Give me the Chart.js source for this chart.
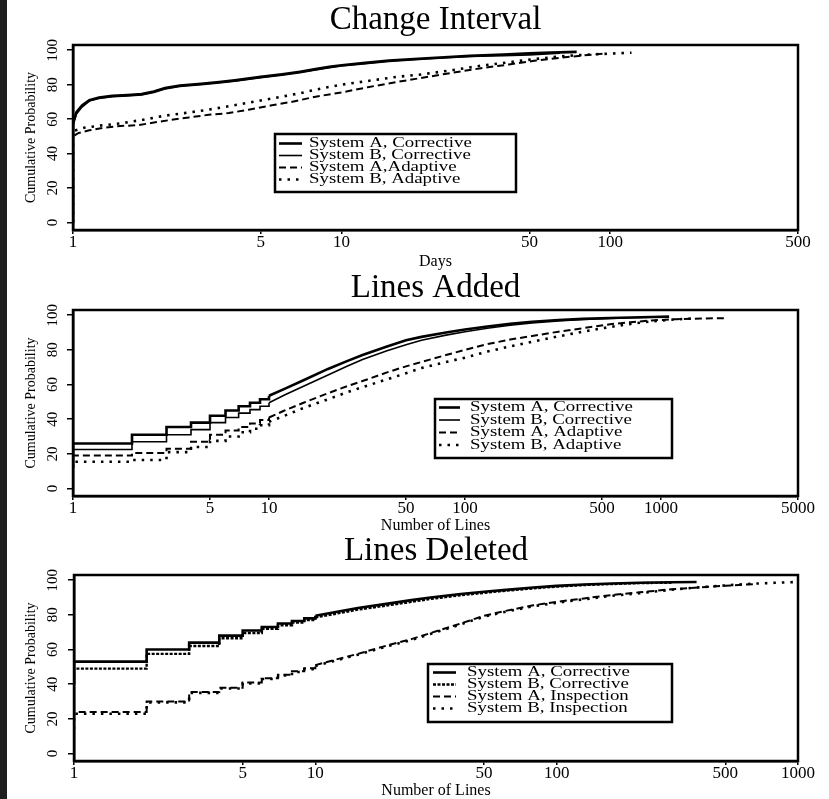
<!DOCTYPE html>
<html>
<head>
<meta charset="utf-8">
<script src="https://cdn.jsdelivr.net/npm/chart.js@4.4.1/dist/chart.umd.min.js"></script>
<style>
  body { margin: 0; background: #fff; width: 829px; height: 799px; overflow: hidden; position: relative; }
  .panel { position: absolute; left: 0; }
  .strip { position: absolute; left: 0; top: 0; width: 7px; height: 799px; background: #1e1e1e; z-index: 2; }
</style>
</head>
<body>
<canvas id="interval" class="panel" width="829" height="270" style="top:0"></canvas>
<canvas id="added" class="panel" width="829" height="265" style="top:270px"></canvas>
<canvas id="deleted" class="panel" width="829" height="264" style="top:535px"></canvas>
<div class="strip"></div>
<script>
// tick labels
const yTicks = [0, 20, 40, 60, 80, 100];
const intervalTicks = [1, 5, 10, 50, 100, 500];
const addedTicks = [1, 5, 10, 50, 100, 500, 1000, 5000];
const deletedTicks = [1, 5, 10, 50, 100, 500, 1000];

// Change Interval (days)
const intervalLabels = ["System A, Corrective", "System B, Corrective", "System A,Adaptive", "System B, Adaptive"];
const ivCorrA_x = [1, 1, 1.03, 1.08, 1.15, 1.25, 1.4, 1.6, 1.8, 2.0, 2.2, 2.5, 3, 3.5, 4, 5, 6, 7, 8, 9, 10, 12, 15, 20, 25, 30, 40, 50, 60, 75];
const ivCorrA_y = [0, 58, 64, 68, 71, 72.5, 73.5, 74, 74.5, 76, 78, 79.5, 80.5, 81.5, 82.5, 84.5, 86, 87.5, 89, 90.3, 91.3, 92.5, 94, 95.2, 96, 96.7, 97.5, 98.2, 98.6, 99];
const ivCorrB_x = [1, 1, 1.03, 1.08, 1.15, 1.25, 1.4, 1.6, 1.8, 2.0, 2.2, 2.5, 3, 3.5, 4, 5, 6, 7, 8, 9, 10, 12, 15, 20, 25, 30, 40, 50, 65];
const ivCorrB_y = [0, 56, 63, 67, 70.5, 72, 73, 73.5, 74, 75.5, 77.5, 79, 80, 81, 82, 84, 85.5, 87, 88.5, 89.8, 90.8, 92, 93.5, 94.8, 95.6, 96.3, 96.8, 97.3, 98.2];
const ivAdapA_x = [1, 1, 1.05, 1.15, 1.3, 1.5, 1.75, 2, 2.3, 2.7, 3.2, 3.8, 4.5, 5.5, 6.5, 8, 10, 12.5, 16, 20, 26, 33, 42, 52, 66, 80, 95];
const ivAdapA_y = [0, 50, 52, 53.5, 55, 56, 56.5, 58, 59.5, 61, 62.5, 63.5, 65.5, 68, 70, 73, 75.5, 78.5, 81.5, 84, 87, 89.5, 91.7, 93.8, 95.7, 97, 98];
const ivAdapB_x = [1, 1, 1.1, 1.3, 1.5, 1.8, 2.2, 2.6, 3.2, 3.8, 4.5, 5.5, 7, 8.5, 10, 13, 16, 20, 26, 33, 42, 52, 66, 80, 100, 120];
const ivAdapB_y = [0, 53, 55, 56.5, 57.5, 59.5, 62, 63.5, 65.5, 67.5, 69.5, 72, 75, 78, 80, 82.5, 84.5, 86, 88.5, 91, 93, 94.8, 96.5, 97.3, 98, 98.5];

// Lines Added / Deleted: steps at whole line counts, then a dense tail
const stepX = [1, 1, 2, 3, 4, 5, 6, 7, 8, 9, 10];

const addedLabels = ["System A, Corrective", "System B, Corrective", "System A, Adaptive", "System B, Adaptive"];
const adCorrA_step = [12, 26, 31, 35.5, 38, 42, 45, 47.5, 49.5, 51.5, 53.5];
const adCorrA_x = [10, 12, 15, 20, 25, 30, 40, 50, 60, 80, 100, 130, 170, 220, 300, 400, 550, 700, 900, 1100];
const adCorrA_y = [53.5, 57.5, 62.5, 69, 73.5, 77, 82, 85.5, 87.5, 90, 91.8, 93.5, 95, 96.2, 97.2, 97.9, 98.4, 98.7, 99, 99.2];
const adCorrB_step = [12, 22.5, 27, 31, 34, 38, 41, 43.5, 45.5, 47.5, 49.5];
const adCorrB_x = [10, 12, 15, 20, 25, 30, 40, 50, 60, 80, 100, 130, 170, 220, 300, 400, 550, 700, 900, 1000];
const adCorrB_y = [49.5, 54, 59, 65.5, 70.5, 74.5, 79.5, 83, 85.5, 88.5, 90.5, 92.5, 94.2, 95.5, 96.7, 97.5, 98.1, 98.5, 98.8, 99];
const adAdapA_step = [12, 19, 20.5, 23, 27, 31, 33.5, 35.5, 37.5, 39.5, 41];
const adAdapA_x = [10, 12, 15, 20, 25, 30, 40, 50, 60, 80, 100, 130, 170, 220, 300, 400, 550, 700, 900, 1200, 1600, 2100];
const adAdapA_y = [41, 45, 49.5, 55, 59, 62, 67, 70.5, 73, 77, 80, 83.3, 86, 88, 90.5, 92.5, 94.8, 96, 97, 97.7, 98.1, 98.3];
const adAdapB_step = [12, 15.5, 16.5, 21, 24, 27.5, 30, 32.5, 34.5, 36.5, 38.5];
const adAdapB_x = [10, 12, 15, 20, 25, 30, 40, 50, 60, 80, 100, 130, 170, 220, 300, 400, 550, 700, 900, 1200, 1500];
const adAdapB_y = [38.5, 42, 46.5, 51.5, 55.5, 58.5, 63, 66.5, 69.5, 73, 75.5, 79, 82, 84.7, 87.8, 90.5, 93.2, 95, 96.5, 97.6, 98.2];

const deletedLabels = ["System A, Corrective", "System B, Corrective", "System A, Inspection", "System B, Inspection"];
const deCorrA_step = [40, 53, 60, 64, 68, 71, 73, 75, 76.5, 78, 79.5];
const deCorrA_x = [10, 12, 15, 20, 25, 30, 40, 50, 60, 80, 100, 130, 170, 220, 300, 380];
const deCorrA_y = [79.5, 81.5, 84, 86.5, 88.5, 90, 92, 93.3, 94.3, 95.8, 96.7, 97.5, 98.1, 98.5, 98.8, 99];
const deCorrB_step = [40, 49, 57.5, 62, 66.5, 69.5, 72, 74, 75.5, 77, 78.5];
const deCorrB_x = [10, 12, 15, 20, 25, 30, 40, 50, 60, 80, 100, 130, 170, 220, 300];
const deCorrB_y = [78.5, 80.5, 83, 85.5, 87.5, 89.2, 91.3, 92.7, 93.8, 95.3, 96.3, 97.2, 97.8, 98.3, 98.6];
const deInspA_step = [14, 24, 30, 35.5, 38, 41, 43.5, 45.5, 47.5, 49.2, 51];
const deInspA_x = [10, 12, 15, 20, 25, 30, 40, 50, 60, 80, 100, 130, 170, 220, 300, 400, 500, 650];
const deInspA_y = [51, 54, 57.5, 62.5, 66, 69.5, 75, 79.5, 82, 85.5, 87.5, 89.5, 91.5, 93, 94.8, 96, 96.8, 97.7];
const deInspB_step = [14, 23, 29.5, 35, 37.5, 40.5, 43, 45, 47, 48.7, 50.5];
const deInspB_x = [10, 12, 15, 20, 25, 30, 40, 50, 60, 80, 100, 130, 170, 220, 300, 400, 500, 650, 800, 1000];
const deInspB_y = [50.5, 53.5, 57, 62, 65.5, 69, 74.5, 79, 81.5, 85, 87, 89, 91, 92.5, 94.5, 96, 97, 98, 98.5, 99];

const SERIF = '"Liberation Serif", "DejaVu Serif", serif';

const solidThick = { borderWidth: 2.6, borderDash: [] };
const solidThin = { borderWidth: 1.6, borderDash: [] };
const denseDot = { borderWidth: 2.4, borderDash: [3, 1.5] };
const dashed = { borderWidth: 2, borderDash: [7, 4] };
const dotted = { borderWidth: 2.6, borderDash: [2.5, 6] };

function curve(xs, ys, style, stepped) {
    return Object.assign({
        data: xs.map((x, i) => ({ x: x, y: ys[i] })),
        stepped: stepped,
        borderColor: "#000",
        pointRadius: 0,
        tension: 0,
        fill: false,
        borderCapStyle: "butt",
    }, style);
}

function ecdf(stepY, tailX, tailY, style) {
    return [curve(stepX, stepY, style, true), curve(tailX, tailY, style, false)];
}

// frame, rotated y labels and boxed legend
const framePlugin = {
    id: "frame",
    afterDatasetsDraw(chart, args, opts) {
        const ctx = chart.ctx;
        const a = chart.chartArea;
        ctx.save();
        ctx.strokeStyle = "#000";
        ctx.lineWidth = 2.5;
        ctx.setLineDash([]);
        ctx.strokeRect(a.left, a.top, a.right - a.left, a.bottom - a.top);

        const yScale = chart.scales.y;
        ctx.fillStyle = "#000";
        ctx.font = "15px " + SERIF;
        ctx.textAlign = "center";
        ctx.textBaseline = "middle";
        yTicks.forEach(v => {
            ctx.save();
            ctx.translate(53, yScale.getPixelForValue(v));
            ctx.rotate(-Math.PI / 2);
            ctx.fillText(String(v), 0, 0);
            ctx.restore();
        });

        const lg = opts.legend;
        ctx.fillStyle = "#fff";
        ctx.fillRect(lg.x, lg.y, lg.w, lg.h);
        ctx.lineWidth = 2.5;
        ctx.strokeRect(lg.x, lg.y, lg.w, lg.h);
        lg.labels.forEach((label, i) => {
            const st = lg.styles[i];
            const y = lg.rows[i];
            ctx.beginPath();
            ctx.lineWidth = st.borderWidth;
            ctx.setLineDash(st.borderDash);
            ctx.moveTo(lg.sample[0], y);
            ctx.lineTo(lg.sample[1], y);
            ctx.stroke();
            ctx.setLineDash([]);
            ctx.save();
            ctx.fillStyle = "#000";
            ctx.font = "14.5px " + SERIF;
            ctx.textAlign = "left";
            ctx.textBaseline = "middle";
            ctx.translate(lg.textX, y);
            ctx.scale(1.3, 1);
            ctx.fillText(label, 0, 0);
            ctx.restore();
        });
        ctx.restore();
    }
};

function buildPanel(p) {
    new Chart(document.getElementById(p.id), {
        type: "line",
        data: { datasets: p.datasets },
        plugins: [framePlugin],
        options: {
            responsive: false,
            animation: false,
            layout: { padding: { left: 0, right: 31, top: 0, bottom: 0 } },
            plugins: {
                legend: { display: false },
                tooltip: { enabled: false },
                title: {
                    display: true,
                    text: p.title,
                    color: "#000",
                    fullSize: false,
                    font: { family: SERIF, size: 33, weight: "normal", lineHeight: 1 },
                    padding: p.titlePad,
                },
                frame: { legend: p.legend },
            },
            scales: {
                x: {
                    type: "logarithmic",
                    min: 1,
                    max: p.xMax,
                    afterBuildTicks: s => { s.ticks = p.xTicks.map(v => ({ value: v })); },
                    afterFit: s => { s.height = p.bottomSpace; },
                    grid: { drawOnChartArea: false, drawTicks: true, tickLength: 4, color: "#000", lineWidth: 1.5 },
                    border: { display: true, color: "#000", width: 2.5 },
                    ticks: {
                        autoSkip: false,
                        maxRotation: 0,
                        padding: 0,
                        color: "#000",
                        font: { family: SERIF, size: 17, lineHeight: 1 },
                        callback: v => String(v),
                    },
                    title: {
                        display: true,
                        text: p.xTitle,
                        color: "#000",
                        font: { family: SERIF, size: 16, lineHeight: 1 },
                        padding: { top: 0, bottom: p.xTitlePad },
                    },
                },
                y: {
                    type: "linear",
                    min: -4.3,
                    max: 103,
                    afterBuildTicks: s => { s.ticks = yTicks.map(v => ({ value: v })); },
                    afterFit: s => { s.width = p.plotLeft; },
                    grid: { drawOnChartArea: false, drawTicks: true, tickLength: 6, color: "#000", lineWidth: 1.5 },
                    border: { display: true, color: "#000", width: 2.5 },
                    ticks: { display: false },
                    title: {
                        display: true,
                        text: "Cumulative Probability",
                        color: "#000",
                        font: { family: SERIF, size: 14, lineHeight: 1 },
                        padding: { top: 24, bottom: 0 },
                    },
                },
            },
        },
    });
}

buildPanel({
    id: "interval",
    title: "Change Interval",
    xTitle: "Days",
    xMax: 500,
    xTicks: intervalTicks,
    titlePad: { top: 3.5, bottom: 8.5 },
    bottomSpace: 40,
    xTitlePad: 0,
    plotLeft: 73,
    datasets: [
        curve(ivCorrA_x, ivCorrA_y, solidThick, false),
        curve(ivCorrB_x, ivCorrB_y, solidThin, false),
        curve(ivAdapA_x, ivAdapA_y, dashed, false),
        curve(ivAdapB_x, ivAdapB_y, dotted, false),
    ],
    legend: {
        x: 275, y: 134, w: 241, h: 58,
        rows: [143.5, 155.5, 167.5, 179.5],
        sample: [279, 302], textX: 309,
        labels: intervalLabels,
        styles: [solidThick, solidThin, dashed, dotted],
    },
});

buildPanel({
    id: "added",
    title: "Lines Added",
    xTitle: "Number of Lines",
    xMax: 5000,
    xTicks: addedTicks,
    titlePad: { top: 2, bottom: 5 },
    bottomSpace: 39,
    xTitlePad: 1,
    plotLeft: 73,
    datasets: [].concat(
        ecdf(adCorrA_step, adCorrA_x, adCorrA_y, solidThick),
        ecdf(adCorrB_step, adCorrB_x, adCorrB_y, solidThin),
        ecdf(adAdapA_step, adAdapA_x, adAdapA_y, dashed),
        ecdf(adAdapB_step, adAdapB_x, adAdapB_y, dotted)
    ),
    legend: {
        x: 435, y: 129, w: 237, h: 59,
        rows: [137.5, 150, 162.5, 175],
        sample: [439, 460], textX: 470,
        labels: addedLabels,
        styles: [solidThick, solidThin, dashed, dotted],
    },
});

buildPanel({
    id: "deleted",
    title: "Lines Deleted",
    xTitle: "Number of Lines",
    xMax: 1000,
    xTicks: deletedTicks,
    titlePad: { top: 0, bottom: 7 },
    bottomSpace: 38,
    xTitlePad: 0,
    plotLeft: 74,
    datasets: [].concat(
        ecdf(deCorrA_step, deCorrA_x, deCorrA_y, solidThick),
        ecdf(deCorrB_step, deCorrB_x, deCorrB_y, denseDot),
        ecdf(deInspA_step, deInspA_x, deInspA_y, dashed),
        ecdf(deInspB_step, deInspB_x, deInspB_y, dotted)
    ),
    legend: {
        x: 428, y: 129, w: 244, h: 58,
        rows: [137.5, 149.5, 161.5, 173.5],
        sample: [433, 456], textX: 467,
        labels: deletedLabels,
        styles: [solidThick, denseDot, dashed, dotted],
    },
});
</script>
</body>
</html>
